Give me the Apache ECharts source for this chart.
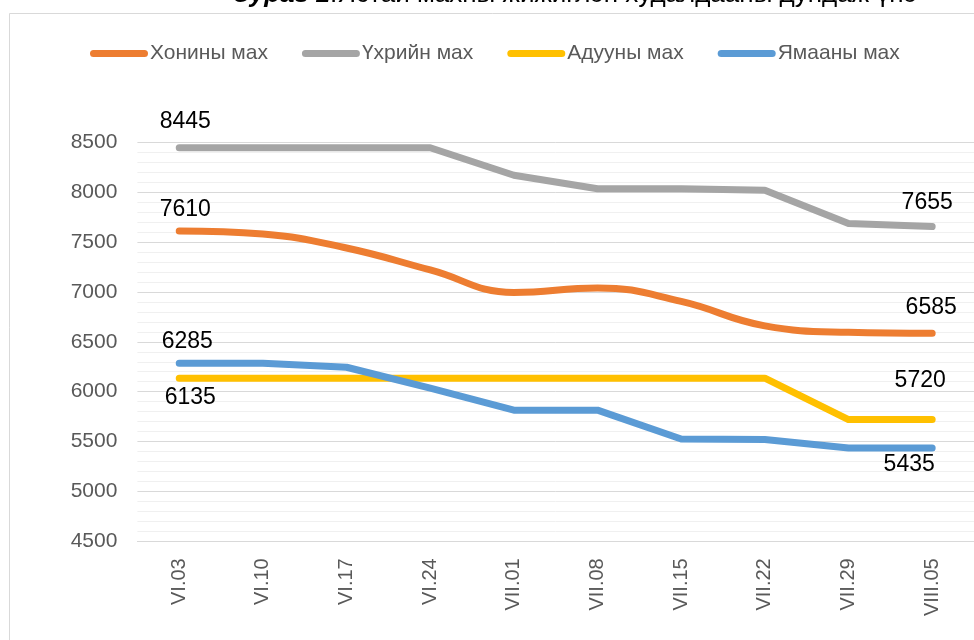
<!DOCTYPE html>
<html>
<head>
<meta charset="utf-8">
<script src="https://cdn.jsdelivr.net/npm/echarts@6/dist/echarts.min.js"></script>
<style>
  html, body { margin: 0; padding: 0; background: #fff; }
  #chart { width: 974px; height: 640px; }
</style>
</head>
<body>
<div id="chart"></div>
<script>
// weekly dates
const categories = ["VI.03", "VI.10", "VI.17", "VI.24", "VII.01", "VII.08", "VII.15", "VII.22", "VII.29", "VIII.05"];

const seriesNames = ["Хонины мах", "Үхрийн мах", "Адууны мах", "Ямааны мах"];
const muttonValues = [7610, 7580, 7440, 7220, 6995, 7040, 6905, 6660, 6595, 6585];
const beefValues = [8445, 8445, 8445, 8445, 8170, 8035, 8035, 8020, 7685, 7655];
const horseValues = [6135, 6135, 6135, 6135, 6135, 6135, 6135, 6135, 5720, 5720];
const goatValues = [6285, 6285, 6245, 6035, 5815, 5815, 5525, 5520, 5435, 5435];

const yTicks = { min: 4500, max: 8500, step: 500 };

const FONT = "Liberation Sans";
const colors = ["#ED7D31", "#A5A5A5", "#FFC000", "#5B9BD5"];
const smoothFlags = [0.45, false, false, false];
// label offsets for the first and last point of each line
const labelOffsets = [
  [[6, -21], [-1, -26]],
  [[6, -26], [-5, -24]],
  [[11, 19], [-12, -39]],
  [[8, -22], [-23, 17]],
];

function buildData(values, idx) {
  const last = values.length - 1;
  return values.map((v, i) => {
    if (i !== 0 && i !== last) return v;
    return {
      value: v,
      label: {
        show: true,
        position: "inside",
        offset: labelOffsets[idx][i === 0 ? 0 : 1],
        align: "center",
        verticalAlign: "middle",
        fontFamily: FONT,
        fontSize: 23,
        color: "#000",
      },
    };
  });
}

const chart = echarts.init(document.getElementById("chart"), null, { renderer: "canvas" });
const allValues = [muttonValues, beefValues, horseValues, goatValues];

chart.setOption({
  animation: false,
  backgroundColor: "#fff",
  title: {
    left: 233,
    top: -18,
    padding: 0,
    text: "{b|Зураг 1}{n|.Ястай махны жижиглэн худалдааны дундаж үнэ}",
    textStyle: {
      fontWeight: "normal",
      rich: {
        b: { fontFamily: FONT, fontSize: 26, fontWeight: "bold", fontStyle: "italic", color: "#000" },
        n: { fontFamily: FONT, fontSize: 26, fontWeight: "normal", color: "#000" },
      },
    },
  },
  graphic: [{
    type: "rect",
    z: -10,
    shape: { x: 9.5, y: 13.5, width: 1000, height: 700 },
    style: { fill: "none", stroke: "#d9d9d9", lineWidth: 1 },
  }],
  legend: {
    left: 90,
    top: 43,
    padding: 0,
    itemWidth: 58,
    itemHeight: 7,
    itemGap: 34,
    icon: "path://M3.5,0 H54.5 A3.5,3.5 0 0 1 54.5,7 H3.5 A3.5,3.5 0 0 1 3.5,0 Z",
    textStyle: { fontFamily: FONT, fontSize: 21, color: "#595959", padding: [0, 0, 0, -3] },
    data: seriesNames,
  },
  grid: { left: 137.4, top: 142.3, width: 852, height: 399 },
  xAxis: {
    type: "category",
    data: categories,
    boundaryGap: true,
    axisLine: { show: true, lineStyle: { color: "#d9d9d9", width: 1 } },
    axisTick: { show: false },
    axisLabel: { rotate: 90, margin: 17, fontFamily: FONT, fontSize: 20, color: "#595959" },
    splitLine: { show: false },
  },
  yAxis: {
    type: "value",
    min: yTicks.min,
    max: yTicks.max,
    interval: yTicks.step,
    axisLine: { show: false },
    axisTick: { show: false },
    axisLabel: {
      margin: 20,
      fontFamily: FONT,
      fontSize: 21,
      color: "#595959",
      formatter: (v) => String(v),
    },
    splitLine: { show: true, lineStyle: { color: "#d9d9d9", width: 1 } },
    minorTick: { show: false, splitNumber: 5 },
    minorSplitLine: { show: true, lineStyle: { color: "#f0f0f0", width: 1 } },
  },
  series: allValues.map((values, idx) => ({
    name: seriesNames[idx],
    type: "line",
    data: buildData(values, idx),
    smooth: smoothFlags[idx],
    symbol: "circle",
    symbolSize: 1,
    showSymbol: true,
    lineStyle: { width: 7, color: colors[idx], cap: "round", join: "round" },
    itemStyle: { color: colors[idx] },
    z: 2 + idx,
  })),
});
</script>
</body>
</html>
